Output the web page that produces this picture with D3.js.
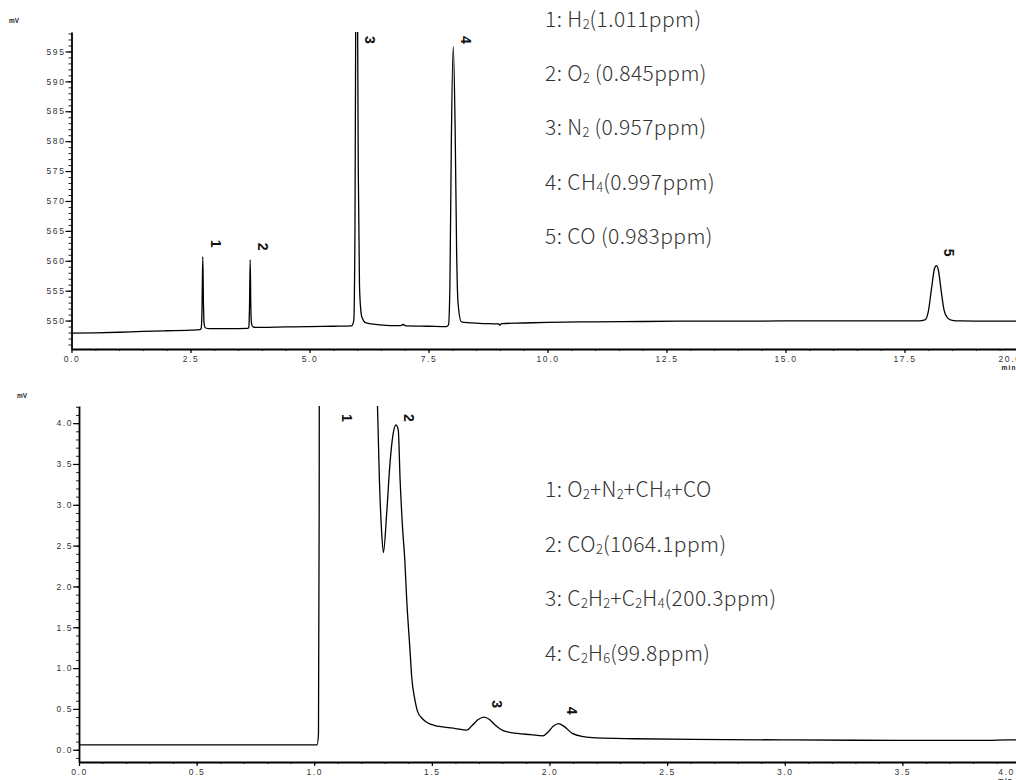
<!DOCTYPE html>
<html>
<head>
<meta charset="utf-8">
<script src="https://cdn.jsdelivr.net/npm/d3@7"></script>
<style>
  html, body { margin: 0; padding: 0; background: #fff; }
  svg { display: block; }
  .tick-label { font-family: "Liberation Sans", Arial, sans-serif; font-size: 8.5px; letter-spacing: 1.6px; fill: #333; }
  .unit { font-family: "Liberation Sans", Arial, sans-serif; font-size: 6.5px; font-weight: bold; fill: #222; }
  .peak-label { font-family: "Liberation Sans", Arial, sans-serif; font-size: 14px; font-weight: bold; fill: #111; }
  .legend { font-family: "Noto Sans CJK SC", "Noto Sans", sans-serif; font-size: 21px; font-weight: 300; letter-spacing: 0.4px; fill: #333; }
</style>
</head>
<body>
<svg id="chart" width="1016" height="780"></svg>
<script>
// ---- Chromatogram 1: permanent gases (0–20 min) ----
const topTime = [
  0, 0.5, 1.0, 1.5, 2.0, 2.5, 2.70, 2.725, 2.742, 2.758, 2.772, 2.785, 2.81, 2.9,
  3.3, 3.70, 3.725, 3.74, 3.754, 3.768, 3.782, 3.81, 3.9,
  4.5, 5.0, 5.5, 5.88, 5.93, 5.955, 5.975, 5.99, 6.005, 6.025, 6.05, 6.075, 6.1, 6.19, 6.47,
  6.9, 6.97, 7.03, 7.5, 7.87, 7.92, 7.95, 7.98, 8.02, 8.06, 8.09, 8.12, 8.19, 8.57,
  8.97, 9.0, 9.03, 9.5, 10, 11, 12, 13, 14, 15, 16, 17, 17.8, 17.93, 18.0, 18.07,
  18.13, 18.17, 18.21, 18.27, 18.33, 18.4, 18.5, 18.7, 19.3, 20
];
const topSignal = [
  547.9, 547.95, 548.05, 548.2, 548.3, 548.4, 548.5, 548.7, 552, 560.7, 553, 549.6, 548.8, 548.65,
  548.65, 548.7, 548.9, 552.5, 560.2, 552, 549.5, 548.95, 548.85,
  548.95, 549.0, 549.05, 549.1, 550, 565, 610, 630, 610, 575, 556, 552, 550.6, 549.6, 549.3,
  549.15, 549.35, 549.1, 549.05, 549.0, 549.3, 556, 580, 595.8, 582, 562, 553, 549.8, 549.55,
  549.45, 549.25, 549.5, 549.6, 549.7, 549.8, 549.85, 549.9, 549.9, 549.95, 549.95, 549.95, 549.95, 550.1, 551.5, 555.5,
  558.7, 559.2, 558.5, 555, 551.8, 550.5, 550.05, 549.95, 549.9, 549.9
];
const topPeakNames = ["1", "2", "3", "4", "5"];
const topPeakTimes = [2.758, 3.754, 5.99, 8.02, 18.17];
const topXTicks = [0, 2.5, 5, 7.5, 10, 12.5, 15, 17.5, 20];
const topXTickLabels = ["0.0", "2.5", "5.0", "7.5", "10.0", "12.5", "15.0", "17.5", "20.0"];
const topYTicks = [550, 555, 560, 565, 570, 575, 580, 585, 590, 595];
const topYTickLabels = ["550", "555", "560", "565", "570", "575", "580", "585", "590", "595"];
const topLegend = [
  "1: H_2(1.011ppm)",
  "2: O_2 (0.845ppm)",
  "3: N_2 (0.957ppm)",
  "4: CH_4(0.997ppm)",
  "5: CO (0.983ppm)"
];

// ---- Chromatogram 2: CO2 and light hydrocarbons (0–4 min) ----
const bottomTime = [
  0, 0.5, 1.0, 1.012, 1.018, 1.021, 1.024, 1.03, 1.05, 1.085, 1.13, 1.18, 1.23, 1.255,
  1.268, 1.277, 1.286, 1.294, 1.308, 1.322, 1.336, 1.347, 1.357, 1.365, 1.376, 1.385,
  1.393, 1.407, 1.414, 1.428, 1.439, 1.46, 1.481, 1.51, 1.547, 1.6, 1.648, 1.672,
  1.697, 1.722, 1.745, 1.77, 1.806, 1.864, 1.92, 1.972, 1.995, 2.017, 2.039, 2.06,
  2.097, 2.146, 2.2, 2.36, 2.75, 3.03, 3.5, 3.86, 3.95, 4.0
];
const bottomSignal = [
  0.06, 0.06, 0.06, 0.06, 0.2, 3, 15, 35, 55, 62, 55, 35, 15, 7,
  4.3, 3.3, 2.69, 2.415, 2.9, 3.51, 3.88, 3.98, 3.92, 3.3, 2.69, 2.32,
  1.84, 1.22, 0.9, 0.61, 0.47, 0.38, 0.33, 0.3, 0.28, 0.26, 0.24, 0.3,
  0.37, 0.4, 0.37, 0.3, 0.23, 0.2, 0.185, 0.17, 0.22, 0.29, 0.32, 0.29,
  0.2, 0.16, 0.145, 0.135, 0.125, 0.12, 0.115, 0.115, 0.12, 0.12
];
const bottomPeakNames = ["1", "2", "3", "4"];
const bottomPeakTimes = [1.085, 1.347, 1.722, 2.039];
const bottomXTicks = [0, 0.5, 1, 1.5, 2, 2.5, 3, 3.5, 4];
const bottomXTickLabels = ["0.0", "0.5", "1.0", "1.5", "2.0", "2.5", "3.0", "3.5", "4.0"];
const bottomYTicks = [0, 0.5, 1, 1.5, 2, 2.5, 3, 3.5, 4];
const bottomYTickLabels = ["0.0", "0.5", "1.0", "1.5", "2.0", "2.5", "3.0", "3.5", "4.0"];
const bottomLegend = [
  "1: O_2+N_2+CH_4+CO",
  "2: CO_2(1064.1ppm)",
  "3: C_2H_2+C_2H_4(200.3ppm)",
  "4: C_2H_6(99.8ppm)"
];

const svg = d3.select("#chart");

// Writes a label where "_n" marks a subscript digit.
function richText(textSel, str) {
  const parts = str.split(/(_\d)/).filter(p => p.length);
  let lowered = false;
  parts.forEach(p => {
    if (p[0] === "_") {
      textSel.append("tspan").attr("font-size", 13).attr("letter-spacing", 0)
        .attr("dy", lowered ? 0 : 4).text(p.slice(1));
      lowered = true;
    } else {
      textSel.append("tspan").attr("dy", lowered ? -4 : 0).text(p);
      lowered = false;
    }
  });
}

function drawChromatogram(cfg) {
  const g = svg.append("g");
  const x = d3.scaleLinear().domain(cfg.xDomain).range(cfg.xRange);
  const y = d3.scaleLinear().domain(cfg.yDomain).range(cfg.yRange);
  const plotTop = cfg.yRange[1], plotBottom = cfg.yRange[0];
  const left = cfg.xRange[0];

  const clipId = cfg.id + "-clip";
  g.append("clipPath").attr("id", clipId)
    .append("rect")
    .attr("x", left).attr("y", plotTop)
    .attr("width", 1016 - left).attr("height", plotBottom - plotTop);

  // minor ticks
  const xMinor = d3.range(cfg.xDomain[0], cfg.xDomain[1] + 1e-9, cfg.xMinorStep);
  const yMinor = d3.range(cfg.yMinorStart, cfg.yDomain[1], cfg.yMinorStep);

  g.append("g").attr("transform", `translate(0,${plotBottom})`)
    .call(d3.axisBottom(x).tickValues(xMinor).tickSize(2).tickFormat(""))
    .call(a => a.select(".domain").remove())
    .call(a => a.selectAll("line").attr("stroke", "#222").attr("stroke-width", 1));
  g.append("g").attr("transform", `translate(${left},0)`)
    .call(d3.axisLeft(y).tickValues(yMinor).tickSize(3).tickFormat(""))
    .call(a => a.select(".domain").remove())
    .call(a => a.selectAll("line").attr("stroke", "#222").attr("stroke-width", 1));

  // major x axis
  const xAxis = g.append("g").attr("transform", `translate(0,${plotBottom})`)
    .call(d3.axisBottom(x).tickValues(cfg.xTicks).tickSize(4).tickSizeOuter(0)
      .tickFormat((d, i) => cfg.xTickLabels[i]));
  xAxis.select(".domain").attr("stroke", "#000").attr("stroke-width", 1.8);
  xAxis.selectAll("line").attr("stroke", "#000").attr("stroke-width", 1.2);
  xAxis.selectAll("text").attr("class", "tick-label").attr("y", 7).attr("dy", "0.71em");
  // last label sits inside the frame, with the time unit beneath it
  const lastTick = xAxis.selectAll(".tick").filter((d, i) => i === cfg.xTicks.length - 1);
  lastTick.select("text").attr("x", -14);
  lastTick.append("text").attr("class", "unit")
    .attr("x", -15).attr("y", 16).attr("dy", "0.71em")
    .attr("text-anchor", "middle").attr("font-weight", "normal")
    .attr("letter-spacing", "1.2px").text("min");

  // major y axis
  const yAxis = g.append("g").attr("transform", `translate(${left},0)`)
    .call(d3.axisLeft(y).tickValues(cfg.yTicks).tickSize(6).tickSizeOuter(0)
      .tickFormat((d, i) => cfg.yTickLabels[i]));
  yAxis.select(".domain").attr("stroke", "#000").attr("stroke-width", 1.8);
  yAxis.selectAll("line").attr("stroke", "#000").attr("stroke-width", 1.2);
  yAxis.selectAll("text").attr("class", "tick-label").attr("x", -6);

  g.append("text").attr("class", "unit")
    .attr("x", cfg.unitPos[0]).attr("y", cfg.unitPos[1]).text("mV");

  // signal trace
  const pts = cfg.time.map((t, i) => [t, cfg.signal[i]]);
  g.append("path")
    .datum(pts)
    .attr("clip-path", `url(#${clipId})`)
    .attr("fill", "none")
    .attr("stroke", "#000")
    .attr("stroke-width", 1.3)
    .attr("stroke-linejoin", "round")
    .attr("d", d3.line().x(d => x(d[0])).y(d => y(d[1])).curve(d3.curveMonotoneX));

  // peak numbers, rotated, just right of and above each apex
  cfg.peakTimes.forEach((t, i) => {
    const near = pts.filter(p => Math.abs(p[0] - t) < 0.03);
    const apex = d3.max(near, p => p[1]);
    const px = x(t) + 13;
    const py = Math.max(y(apex) - 13, plotTop + cfg.labelClamp);
    g.append("text").attr("class", "peak-label")
      .attr("text-anchor", "middle").attr("dominant-baseline", "central")
      .attr("transform", `translate(${px},${py}) rotate(90)`)
      .text(cfg.peakNames[i]);
  });

  // compound list
  cfg.legend.forEach((s, i) => {
    const t = g.append("text").attr("class", "legend")
      .attr("x", cfg.legendPos[0])
      .attr("y", cfg.legendPos[1] + i * cfg.legendStep)
      .attr("dominant-baseline", "middle");
    richText(t, s);
  });
}

drawChromatogram({
  id: "top",
  time: topTime, signal: topSignal,
  xDomain: [0, 20], xRange: [71.5, 1023.5],
  yDomain: [545.25, 598.25], yRange: [349, 32],
  xMinorStep: 0.5, yMinorStart: 546, yMinorStep: 1,
  xTicks: topXTicks, xTickLabels: topXTickLabels,
  yTicks: topYTicks, yTickLabels: topYTickLabels,
  unitPos: [9, 23],
  peakNames: topPeakNames, peakTimes: topPeakTimes, labelClamp: 8,
  legend: topLegend, legendPos: [545, 21], legendStep: 54.2
});

drawChromatogram({
  id: "bottom",
  time: bottomTime, signal: bottomSignal,
  xDomain: [0, 4], xRange: [79, 1020],
  yDomain: [-0.15, 4.21], yRange: [762, 406],
  xMinorStep: 0.1, yMinorStart: -0.1, yMinorStep: 0.1,
  xTicks: bottomXTicks, xTickLabels: bottomXTickLabels,
  yTicks: bottomYTicks, yTickLabels: bottomYTickLabels,
  unitPos: [17, 398],
  peakNames: bottomPeakNames, peakTimes: bottomPeakTimes, labelClamp: 12,
  legend: bottomLegend, legendPos: [545, 491], legendStep: 54.5
});
</script>
</body>
</html>
